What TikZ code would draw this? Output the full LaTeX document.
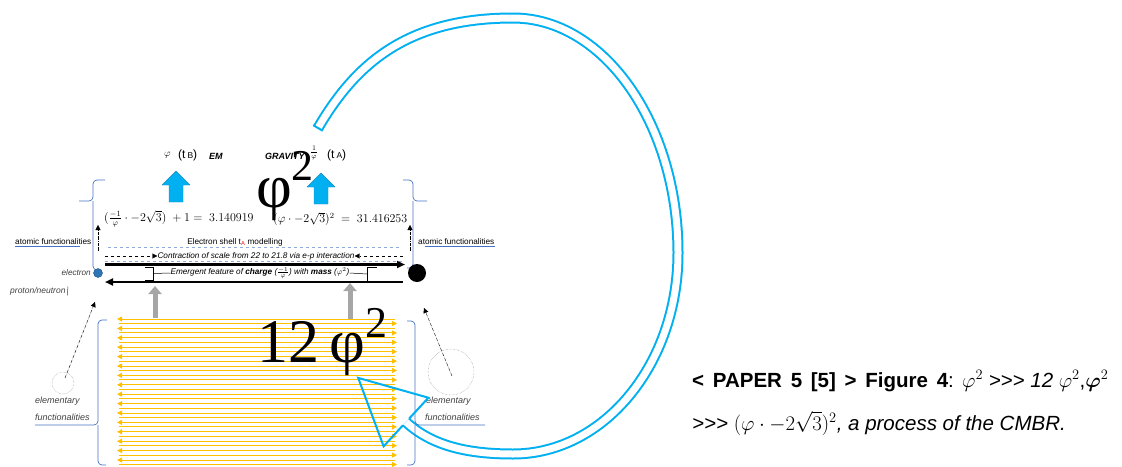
\documentclass[tikz,border=0pt]{standalone}
\usepackage{amsmath,amssymb}
\usepackage[no-math]{fontspec}
\setmainfont{Liberation Sans}
\newfontfamily\greekserif{Liberation Serif}
\usetikzlibrary{arrows.meta,positioning}

\definecolor{skyblue}{HTML}{00B0F0}
\definecolor{skyedge}{HTML}{1C8CC8}
\definecolor{braceblue}{HTML}{4472C4}
\definecolor{dashblue}{HTML}{8FAADC}
\definecolor{amber}{HTML}{FFC000}
\definecolor{arrowgray}{HTML}{A6A6A6}
\definecolor{electronblue}{HTML}{2E75B6}
\definecolor{labelgray}{HTML}{404040}

\tikzset{
  lbl/.style={font=\fontsize{8.2}{9}\selectfont, inner sep=0pt},
  lblit/.style={font=\fontsize{8.2}{9}\selectfont\itshape, inner sep=0pt},
  elemlbl/.style={font=\fontsize{9}{10}\selectfont\itshape, text=labelgray, inner sep=0pt, anchor=west},
  toplbl/.style={font=\fontsize{9}{9}\selectfont\bfseries\itshape, inner sep=0pt, anchor=west},
  bracket/.style={braceblue, line width=0.7pt, rounded corners=4pt},
  tip/.style={-{Triangle[length=5pt,width=5pt]}},
  bigtext/.style={font=\greekserif\fontsize{62}{62}\selectfont, inner sep=0pt, anchor=base west},
  caption/.style={font=\fontsize{20.5}{20.5}\selectfont, inner sep=0pt, anchor=base west}
}

\begin{document}
\begin{tikzpicture}[x=1pt, y=-1pt]
				
				\useasboundingbox (0,0) rectangle (1122,466);
				
				% --- Big looping arrow (shaft) ---
				\coordinate (tail) at (318,128);
				\coordinate (shaftend) at (406,422);
				\draw[skyblue, line width=2pt, double=white, double distance=7pt]
				(tail) .. controls (356,63) and (408,18) .. (513,18)
				.. controls (604,18) and (678,124) .. (678,253)
				.. controls (678,364) and (604,454) .. (513,454)
				.. controls (468,454) and (432,446) .. (shaftend);
				\draw[skyblue, line width=2pt] (313.2,125.2) -- (322.8,130.8);
				
				% --- Upper braces ---
				\draw[bracket] (105,180) -| (93,201) -- (79,201);
				\draw[bracket] (93,201) |- (100,270);
				\draw[bracket] (403,180) -| (413,201) -- (427,201);
				\draw[bracket] (413,201) |- (407,268);
				
				% --- Lower braces ---
				\draw[bracket] (107,320) -| (98,425) -- (35,425);
				\draw[bracket] (98,425) |- (106,465);
				\draw[bracket] (407,321) -| (415,425) -- (485,425);
				\draw[bracket] (415,425) |- (407,465);
				
				% --- Top labels ---
				\node[anchor=west, inner sep=0pt, font=\fontsize{10}{10}\selectfont] (phiEM) at (164,155) {$\varphi$};
				\node[anchor=west, inner sep=0pt, font=\fontsize{12}{12}\selectfont] (tB) at (178,155)
				{(t\,{\fontsize{8.5}{8.5}\selectfont B})};
				\node[toplbl] (em) at (209,156) {EM};
				\node[toplbl] (grav) at (265,156) {GRAVITY};
				\node[inner sep=0pt, font=\fontsize{10}{10}\selectfont] (invphi) at (314,153) {$\frac{1}{\varphi}$};
				\node[anchor=west, inner sep=0pt, font=\fontsize{12}{12}\selectfont] (tA) at (327,155)
				{(t\,{\fontsize{8.5}{8.5}\selectfont A})};
				
				% blue block arrows
				\foreach \cx/\ty [count=\n] in {176/171, 321/173} {
					\draw[skyedge, fill=skyblue, line width=0.4pt]
					(\cx,\ty) -- ++(14,14) -- ++(-7,0) -- ++(0,17) -- ++(-14,0)
					-- ++(0,-17) -- ++(-7,0) -- cycle;
				}
				
				% --- Equations ---
				\node[anchor=west, inner sep=0pt, font=\fontsize{12}{12}\selectfont] (eqpi) at (104,219)
				{$(\frac{-1}{\varphi}\cdot -2\sqrt{3})\ +1 =\ 3.140919$};
				\node[anchor=west, inner sep=0pt, font=\fontsize{12}{12}\selectfont] (eqtenpi) at (273,219)
				{$(\varphi\cdot -2\sqrt{3})^2\ =\ 31.416253$};
				
				% --- Atomic level ---
				\node[lbl, anchor=west] (atomL) at (15,242) {atomic functionalities};
				\node[lbl, anchor=west] (atomR) at (418,242) {atomic functionalities};
				\draw[braceblue, line width=0.5pt] (15,246.5) -- (80,246.5);
				\draw[braceblue, line width=0.5pt] (425,246.5) -- (495,246.5);
				
				\draw[tip, densely dashdotted] (98,251) -- (98,225);
				\draw[tip, densely dashdotted] (410,251) -- (410,225);
				
				\node[lbl] (shell) at (235,242) {Electron shell t\textsubscript{\color{red}A} modelling};
				\draw[dashblue, dashed, line width=0.8pt] (108,247.5) -- (402,247.5);
				\node[lblit] (contract) at (256,256) {Contraction of scale from 22 to 21.8 via e-p interaction};
				\draw[tip, dashed] (105,256) -- (contract.west);
				\draw[tip, dashed] (403,256) -- (contract.east);
				\draw[dashblue, dashed, line width=0.8pt] (105,261) -- (403,261);
				
				\draw[line width=2.2pt, -{Triangle[length=8pt,width=7pt]}] (105,264.5) -- (405,264.5);
				\draw[line width=2.2pt, -{Triangle[length=8pt,width=7pt]}] (403,282) -- (105,282);
				
				% electron and nucleus
				\node[circle, draw=electronblue!70!black, fill=electronblue, minimum size=9pt, inner sep=0pt] (electron) at (98,273) {};
				\node[circle, fill=black, minimum size=18pt, inner sep=0pt] (nucleus) at (417,273) {};
				\node[lblit, text=labelgray, anchor=east] (elabel) at (91,273) {electron};
				\node[lblit, font=\fontsize{8.5}{9}\selectfont\itshape, text=labelgray, anchor=west] (pn) at (10,291) {proton/neutron};
				\draw[labelgray, line width=0.5pt] (pn.east) ++(1.5,4.5) -- ++(0.8,-9);
				
				\node[lblit] (emergent) at (260,273)
				{Emergent feature of \textbf{charge} ($\frac{-1}{\varphi}$) with \textbf{mass} ($\varphi^2$)};
				\draw[line width=0.5pt] (145,267) -- (153,267) -- (153,280) -- (145,280);
				\draw[line width=0.5pt] (153,273.5) -- (emergent.west);
				\draw[line width=0.5pt] (377,267) -- (367,267) -- (367,281) -- (377,281);
				\draw[line width=0.5pt] (367,274) -- (emergent.east);
				
				% gray up arrows
				\draw[arrowgray, line width=5pt, -{Triangle[length=8pt,width=13pt]}] (155,318) -- (155,286);
				\draw[arrowgray, line width=5pt, -{Triangle[length=8pt,width=13pt]}] (350,320) -- (350,283);
				
				% --- Elementary level: radiation lines ---
				\foreach \i in {0,...,15} {
					\pgfmathsetmacro{\yl}{319+9.4*\i}
					\pgfmathsetmacro{\yr}{323.5+9.4*\i}
					\draw[amber, line width=0.9pt, -{Triangle[length=5pt,width=5pt]}] (395,\yl) -- (117,\yl);
					\draw[amber, line width=0.9pt, -{Triangle[length=5pt,width=5pt]}] (119,\yr) -- (397,\yr);
				}
				
				% elementary functionalities
				\node[circle, draw=gray, densely dotted, minimum size=22pt, inner sep=0pt] (cellL) at (63,383) {};
				\node[circle, draw=gray, densely dotted, minimum size=46pt, inner sep=0pt] (cellR) at (451,372) {};
				\draw[tip, densely dashdotted] (cellL.center) ++(2,-5) -- (95,302);
				\draw[tip, densely dashdotted] (cellR.center) ++(1,4) -- (424,308);
				\node[elemlbl] (elemL) at (35,401) {elementary};
				\node[elemlbl] (funcL) at (35,417) {functionalities};
				\node[elemlbl] (elemR) at (426,401) {elementary};
				\node[elemlbl] (funcR) at (425,417) {functionalities};
				
				% --- Big symbols ---
				\node[bigtext] (phisq) at (256,207)
				{φ\raisebox{27pt}{\fontsize{44}{44}\selectfont 2}};
				\node[bigtext] (twelvephisq) at (257,362)
				{12\,φ\raisebox{25pt}{\fontsize{44}{44}\selectfont 2}};
				
				% --- Arrow head of the loop ---
				\draw[skyblue, line width=2pt, line join=miter]
				(409.05,418.7) -- (428.4,397.7) -- (358.2,377.9) -- (383.6,446.3) -- (402.95,425.3);
				
				% --- Caption ---
				\node[caption] (capA) at (692,387)
				{\makebox[256pt][s]{\textbf{< PAPER 5 [5] > Figure 4}}:};
				\node[caption] (capB) at (962,387)
				{$\varphi^2$ \textit{>{}>{}> 12} $\varphi^2$,$\boldsymbol{\varphi}^2$};
				\node[caption] (capC) at (692,430)
				{\textit{>{}>{}>} $(\varphi\cdot -2\sqrt{3})^2$\textit{, a process of the CMBR.}};
				
\end{tikzpicture}
\end{document}
